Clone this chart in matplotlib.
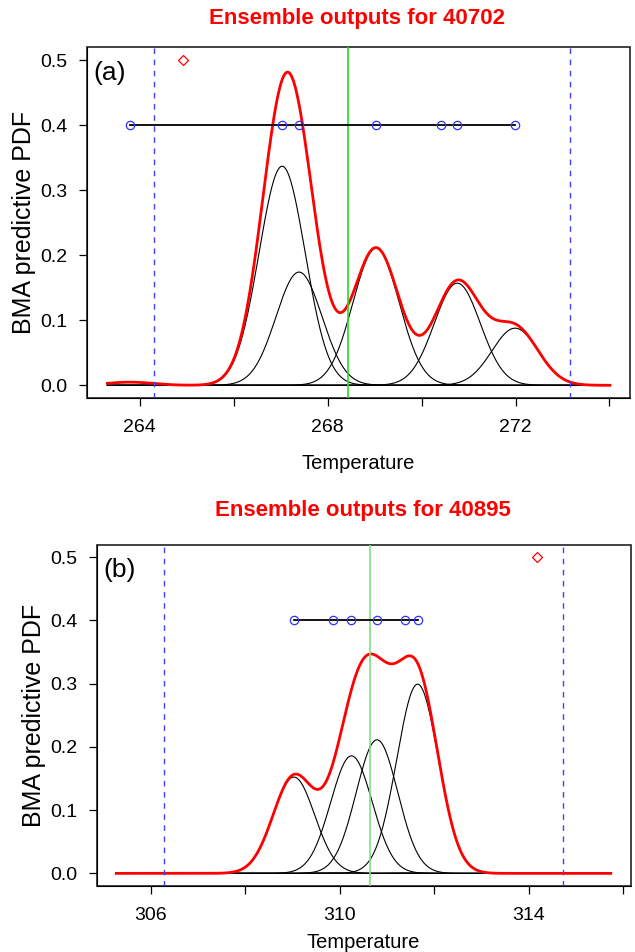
import matplotlib
matplotlib.use('Agg')
import matplotlib.pyplot as plt
import numpy as np

plt.rcParams['font.family'] = ['Liberation Sans', 'DejaVu Sans']

# panel (a): station 40702
members_a = [263.79, 267.03, 267.39, 269.03, 270.42, 270.76, 271.99]
weights_a = [0.006, 0.414, 0.214, 0.259, 0.001, 0.193, 0.108]
sigma_a = 0.49
range_a = (263.31, 274.01)
obs_a = 268.43
bounds_a = [264.31, 273.17]
mark_a = 264.91

# panel (b): station 40895
members_b = [309.03, 309.85, 310.25, 310.79, 311.38, 311.65]
weights_b = [0.168, 0.001, 0.205, 0.233, 0.001, 0.330]
sigma_b = 0.44
range_b = (305.27, 315.74)
obs_b = 310.64
bounds_b = [306.28, 314.72]
mark_b = 314.18

xticks_a = [264, 266, 268, 270, 272, 274]
xlabels_a = ['264', '', '268', '', '272', '']
xticks_b = [306, 308, 310, 312, 314, 316]
xlabels_b = ['306', '', '310', '', '314', '']
yticks = [0.0, 0.1, 0.2, 0.3, 0.4, 0.5]


def dnorm(x, m, s):
    return np.exp(-0.5 * ((x - m) / s) ** 2) / (s * np.sqrt(2 * np.pi))


def panel(ax, members, weights, sigma, xr, obs, bounds, mark, tag, xt, xl, green, xpad):
    x = np.linspace(xr[0], xr[1], 800)
    total = np.zeros_like(x)
    for m, w in zip(members, weights):
        comp = w * dnorm(x, m, sigma)
        total += comp
        ax.plot(x, comp, color='black', lw=0.8)
    ax.plot(x, total, color='red', lw=2)
    ax.axvline(obs, color=green, lw=1.2)
    for b in bounds:
        ax.axvline(b, color='#4040ff', lw=1, ls=(0, (4, 4)))
    ax.plot(members, [0.4] * len(members), color='black', lw=1.3)
    ax.plot(members, [0.4] * len(members), 'o', ms=6, mfc='none', mec='#3030ff', mew=0.9)
    ax.plot([mark], [0.5], 'D', ms=5, mfc='none', mec='red', mew=0.9)
    span = xr[1] - xr[0]
    ax.set_xlim(xr[0] - 0.04 * span, xr[1] + 0.04 * span)
    ax.set_ylim(-0.02, 0.52)
    ax.set_xticks(xt)
    ax.set_xticklabels(xl)
    ax.set_yticks(yticks)
    ax.set_yticklabels(['%.1f' % v for v in yticks])
    ax.tick_params(axis='both', labelsize=14, length=6, width=0.9, direction='out')
    ax.tick_params(axis='x', pad=9)
    ax.tick_params(axis='y', pad=8)
    ax.spines['top'].set_visible(False)
    ax.spines['right'].set_visible(False)
    ax.set_xlabel('Temperature', fontsize=14.5, labelpad=xpad)
    ax.set_ylabel('BMA predictive PDF', fontsize=18, labelpad=3)
    ax.text(0.012, 0.96, tag, transform=ax.transAxes, fontsize=19, va='top', ha='left')


fig = plt.figure(figsize=(6.35, 9.52), dpi=100)

ax1 = fig.add_axes([0.1375, 0.5816, 0.8547, 0.3687])
panel(ax1, members_a, weights_a, sigma_a, range_a, obs_a, bounds_a, mark_a,
      '(a)', xticks_a, xlabels_a, '#22dd22', 13)
fig.text(0.562, 0.981, 'Ensemble outputs for 40702', color='red', fontsize=16,
         fontweight='bold', ha='center', va='center')

ax2 = fig.add_axes([0.152, 0.0693, 0.841, 0.3587])
panel(ax2, members_b, weights_b, sigma_b, range_b, obs_b, bounds_b, mark_b,
      '(b)', xticks_b, xlabels_b, '#80e080', 6.5)
fig.text(0.572, 0.464, 'Ensemble outputs for 40895', color='red', fontsize=16,
         fontweight='bold', ha='center', va='center')

# R-style box around the plot region
for ax in (ax1, ax2):
    ax.patch.set_visible(False)
    box = plt.Rectangle((0, 0), 1, 1, transform=ax.transAxes, fill=False,
                        ec='#222222', lw=1.2, clip_on=False)
    ax.add_patch(box)

fig.savefig('out.png', dpi=100)
